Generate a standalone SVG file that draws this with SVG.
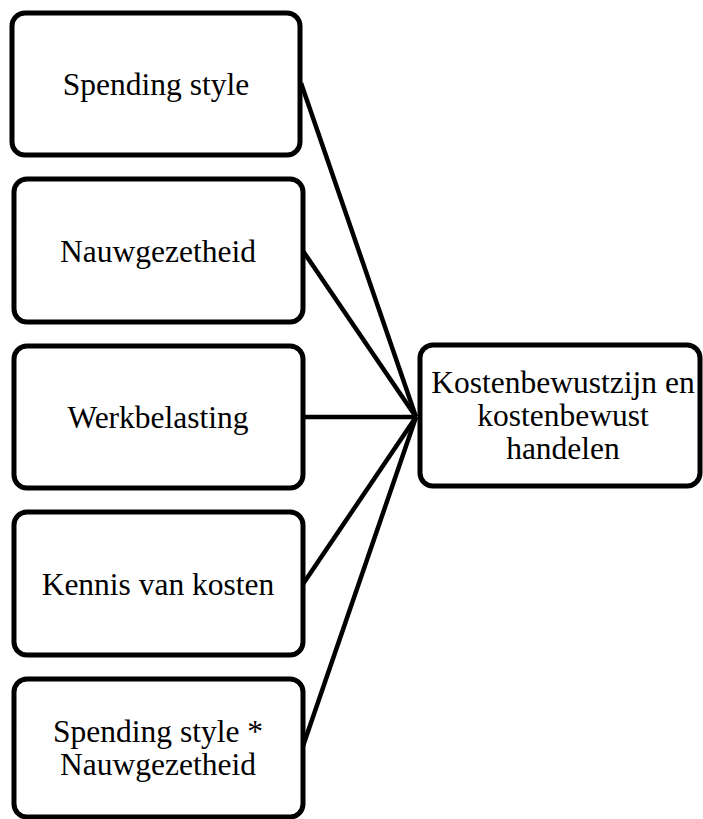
<svg xmlns="http://www.w3.org/2000/svg" width="703" height="819" viewBox="0 0 703 819">
<style>
.box{fill:#fff;stroke:#000;stroke-width:5}
.lbl{font-family:"Liberation Serif","Times New Roman",serif;font-size:31.5px;fill:#000;text-anchor:middle}
.conn{stroke:#000;stroke-width:4.5;fill:none}
</style>
<rect width="703" height="819" fill="#fff"/>
<g id="connectors">
<line class="conn" x1="301" y1="83" x2="416" y2="417"/>
<line class="conn" x1="303" y1="251" x2="416" y2="417"/>
<line class="conn" x1="303" y1="417" x2="416" y2="417"/>
<line class="conn" x1="303" y1="584" x2="416" y2="417"/>
<line class="conn" x1="303" y1="746" x2="416" y2="417"/>
</g>
<g id="n1">
<rect class="box" x="12" y="13" width="288" height="142" rx="13"/>
<text class="lbl" x="156" y="95">Spending style</text>
</g>
<g id="n2">
<rect class="box" x="14" y="179" width="289" height="143" rx="13"/>
<text class="lbl" x="158" y="262">Nauwgezetheid</text>
</g>
<g id="n3">
<rect class="box" x="14" y="346" width="289" height="142" rx="13"/>
<text class="lbl" x="158" y="428">Werkbelasting</text>
</g>
<g id="n4">
<rect class="box" x="14" y="512" width="289" height="143" rx="13"/>
<text class="lbl" x="158" y="595">Kennis van kosten</text>
</g>
<g id="n5">
<rect class="box" x="14" y="679" width="289" height="138" rx="13"/>
<text class="lbl" x="158" y="742">Spending style *</text>
<text class="lbl" x="158" y="775">Nauwgezetheid</text>
</g>
<g id="n6">
<rect class="box" x="420" y="345" width="280" height="141" rx="13"/>
<text class="lbl" x="563" y="393">Kostenbewustzijn en</text>
<text class="lbl" x="563" y="426">kostenbewust</text>
<text class="lbl" x="563" y="459">handelen</text>
</g>
</svg>
